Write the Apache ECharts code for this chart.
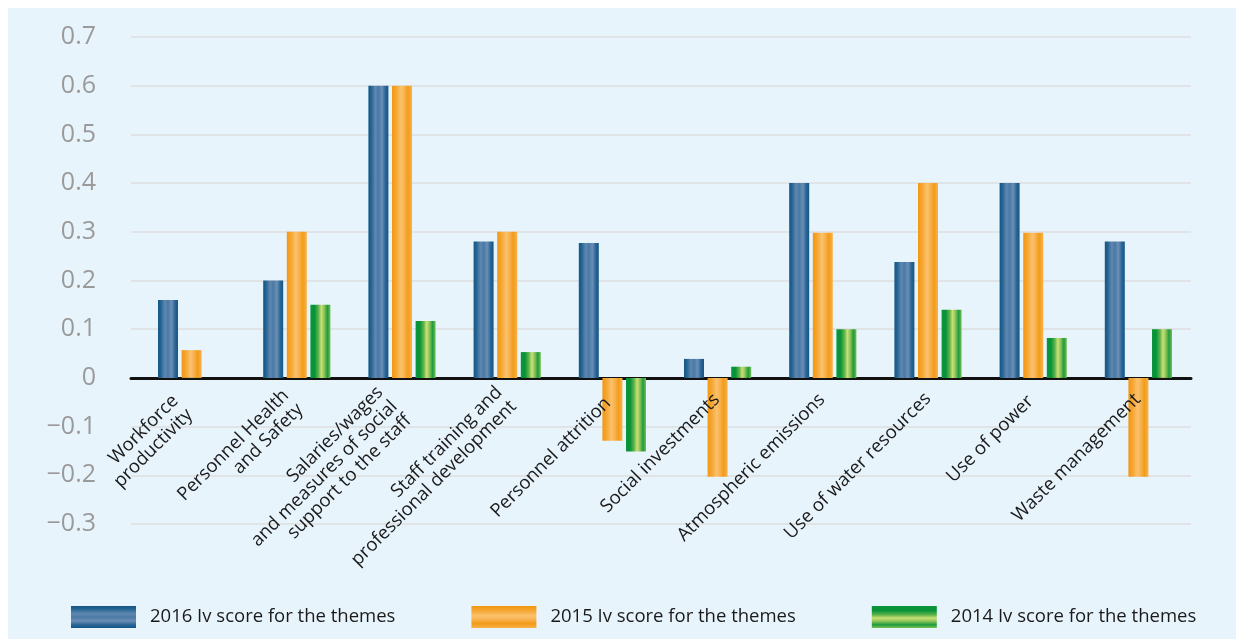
<!DOCTYPE html>
<html>
<head>
<meta charset="utf-8">
<script src="https://cdn.jsdelivr.net/npm/echarts@6/dist/echarts.min.js"></script>
<style>
html,body{margin:0;padding:0;background:#ffffff;width:1236px;height:639px;overflow:hidden;}
#bg{position:absolute;left:8px;top:8px;width:1228px;height:631px;background:#e8f4fc;}
#chart{position:absolute;left:0;top:0;width:1236px;height:639px;}
</style>
</head>
<body>
<div id="bg"></div>
<div id="chart"></div>
<script>
// ---- data ----
const categories = [
  'Workforce\nproductivity',
  'Personnel Health\nand Safety',
  'Salaries/wages\nand measures of social\nsupport to the staff',
  'Staff training and\nprofessional development',
  'Personnel attrition',
  'Social investments',
  'Atmospheric emissions',
  'Use of water resources',
  'Use of power',
  'Waste management'
];
const seriesNames = [
  '2016 Iv score for the themes',
  '2015 Iv score for the themes',
  '2014 Iv score for the themes'
];
const values2016 = [0.16, 0.20, 0.60, 0.28, 0.277, 0.039, 0.40, 0.238, 0.40, 0.28];
const values2015 = [0.057, 0.30, 0.60, 0.30, -0.129, -0.203, 0.298, 0.40, 0.298, -0.203];
const values2014 = [null, 0.15, 0.117, 0.053, -0.151, 0.023, 0.10, 0.14, 0.082, 0.10];
const yTicks = { min: -0.3, max: 0.7, step: 0.1 };

// ---- layout ----
const LABEL_ROTATE = 45;
// small screen nudges [dx, dy] (px) for each category label block
const labelNudge = [[-9, 9.2], [2.2, 9.9], [-3.8, 11.7], [5, 6.5], [-9.2, 0],
                    [-1.6, 0], [-1.6, 0], [0, 0], [-5.3, 0], [-1.4, 0]];
const GRID_TOP = 37, GRID_BOTTOM = 115, H = 639;
const plotH = H - GRID_TOP - GRID_BOTTOM;
const zeroOffset = -plotH * (0 - yTicks.min) / (yTicks.max - yTicks.min);

function grad(stops, vertical) {
  return new echarts.graphic.LinearGradient(0, 0, vertical ? 0 : 1, vertical ? 1 : 0,
    stops.map(s => ({ offset: s[0], color: s[1] })));
}
const blueStops = [[0,'#135685'],[0.12,'#20618f'],[0.35,'#5f88b1'],[0.5,'#4a79a5'],[0.68,'#6a8fb6'],[0.85,'#2a6595'],[1,'#135786']];
const orangeStops = [[0,'#f29810'],[0.2,'#f5a530'],[0.45,'#fbc16c'],[0.6,'#f8b453'],[0.8,'#f39c18'],[1,'#f7b24c']];
const greenStops = [[0,'#0c963c'],[0.2,'#069238'],[0.4,'#5db34a'],[0.55,'#cbe075'],[0.7,'#86c257'],[0.85,'#1e9b3f'],[1,'#79bf52']];

const fmtY = v => {
  const r = Math.round(v * 10) / 10;
  if (r === 0) return '0';
  return (r < 0 ? '\u2212' : '') + Math.abs(r).toFixed(1);
};

// convert a screen nudge into padding of a rotated, right/middle aligned label
const rad = LABEL_ROTATE * Math.PI / 180;
const catData = categories.map((c, i) => {
  const [dx, dy] = labelNudge[i];
  const a = dx * Math.cos(rad) - dy * Math.sin(rad);   // along text direction
  const b = dx * Math.sin(rad) + dy * Math.cos(rad);   // perpendicular (down)
  const right = Math.max(0, -a);
  const top = b > 0 ? 2 * b : 0;
  const bottom = b < 0 ? -2 * b : 0;
  return { value: c, textStyle: { padding: [top, right, bottom, 0] } };
});

const FONT = '"Open Sans", "Noto Sans", sans-serif';
const chart = echarts.init(document.getElementById('chart'), null, { renderer: 'canvas' });
chart.setOption({
  backgroundColor: 'transparent',
  animation: false,
  textStyle: { fontFamily: FONT },
  grid: [
    { left: 131, right: 45, top: GRID_TOP, bottom: GRID_BOTTOM, containLabel: false, outerBoundsMode: 'none' },
    { left: 139, right: 45, top: GRID_TOP, bottom: GRID_BOTTOM, containLabel: false, outerBoundsMode: 'none' }
  ],
  xAxis: [
    { gridIndex: 0, type: 'value', min: 0, max: 1, show: true,
      axisLine: { show: true, onZero: true, lineStyle: { color: '#111', width: 3 } },
      axisTick: { show: false }, axisLabel: { show: false }, splitLine: { show: false } },
    { gridIndex: 1, type: 'category', data: catData, position: 'bottom', offset: zeroOffset, z: 10,
      axisLine: { show: false, onZero: false }, axisTick: { show: false },
      axisLabel: {
        interval: 0, rotate: LABEL_ROTATE, margin: 18, color: '#1a1a1a', fontSize: 18.5, lineHeight: 20,
        fontFamily: FONT
      } }
  ],
  yAxis: [
    { gridIndex: 0, type: 'value', min: yTicks.min, max: yTicks.max, interval: yTicks.step,
      axisLine: { show: false }, axisTick: { show: false },
      axisLabel: { formatter: fmtY, color: '#9a9a9a', fontSize: 25, margin: 35, fontFamily: FONT },
      splitLine: { show: true, lineStyle: { color: '#dfdfdf', width: 1.5 } } },
    { gridIndex: 1, type: 'value', min: yTicks.min, max: yTicks.max, interval: yTicks.step, show: false,
      splitLine: { show: false } }
  ],
  legend: {
    left: 71, top: 606, padding: 0, itemWidth: 65, itemHeight: 22, itemGap: 76,
    icon: 'rect',
    textStyle: { fontSize: 18.5, color: '#1a1a1a', padding: [0, 0, 0, 9], fontFamily: FONT },
    data: [
      { name: seriesNames[0], itemStyle: { color: grad(blueStops, true) } },
      { name: seriesNames[1], itemStyle: { color: grad(orangeStops, true) } },
      { name: seriesNames[2], itemStyle: { color: grad(greenStops, true) } }
    ]
  },
  series: [
    { name: seriesNames[0], type: 'bar', xAxisIndex: 1, yAxisIndex: 1, data: values2016,
      barWidth: 20, barGap: '18%', itemStyle: { color: grad(blueStops, false) } },
    { name: seriesNames[1], type: 'bar', xAxisIndex: 1, yAxisIndex: 1, data: values2015,
      barWidth: 20, barGap: '18%', itemStyle: { color: grad(orangeStops, false) } },
    { name: seriesNames[2], type: 'bar', xAxisIndex: 1, yAxisIndex: 1, data: values2014,
      barWidth: 20, barGap: '18%', itemStyle: { color: grad(greenStops, false) } }
  ]
});
</script>
</body>
</html>
